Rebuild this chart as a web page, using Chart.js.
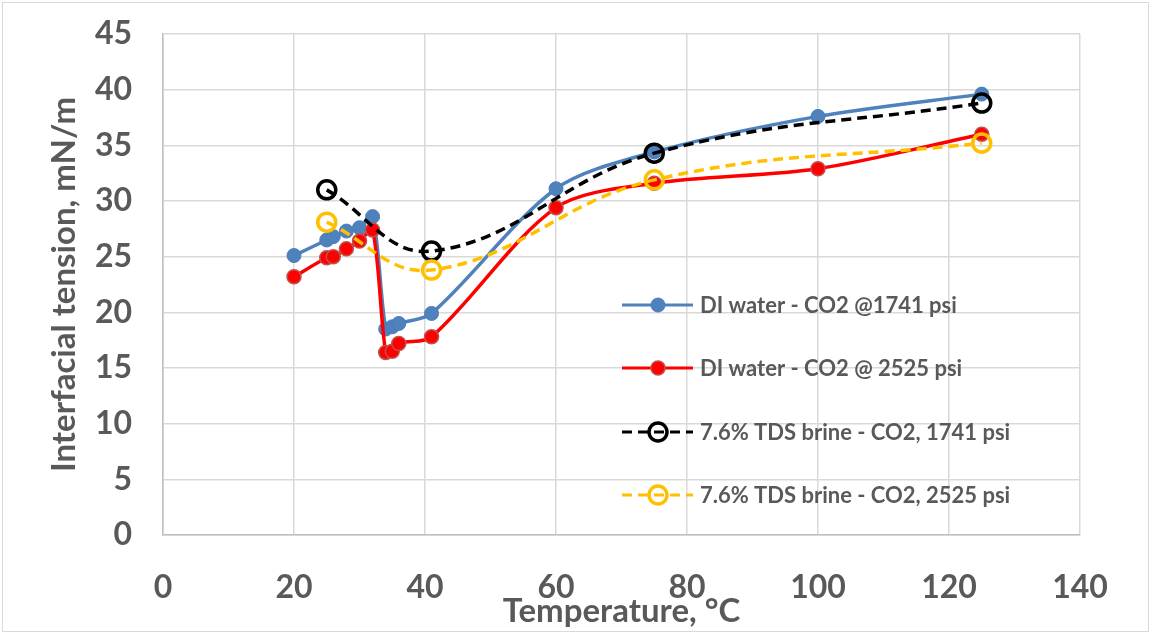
<!DOCTYPE html>
<html>
<head>
<meta charset="utf-8">
<script src="https://cdn.jsdelivr.net/npm/chart.js@4.4.0/dist/chart.umd.min.js"></script>
<style>
  html, body { margin: 0; padding: 0; background: #fff; }
  #wrap { position: absolute; left: 2px; top: 2px; width: 1145px; height: 628px; border: 1px solid #d9d9d9; }
  canvas { display: block; }
</style>
</head>
<body>
<div id="wrap"><canvas id="ift" width="1145" height="628"></canvas></div>
<script>
// temperaturas (°C) e tensões interfaciais (mN/m)
const tempDI = [20, 25, 26, 28, 30, 32, 34, 35, 36, 41, 60, 75, 100, 125];
const iftDI1741 = [25.1, 26.5, 26.8, 27.3, 27.6, 28.6, 18.5, 18.7, 19.0, 19.9, 31.1, 34.4, 37.6, 39.6];
const iftDI2525 = [23.2, 24.9, 25.0, 25.7, 26.4, 27.4, 16.4, 16.5, 17.2, 17.8, 29.4, 31.6, 32.9, 36.0];

const tempBrine = [25, 41, 75, 125];
const iftBrine1741 = [31.0, 25.5, 34.3, 38.8];
const iftBrine2525 = [28.1, 23.8, 31.9, 35.2];

const xTicks = [0, 20, 40, 60, 80, 100, 120, 140];
const yTicks = [0, 5, 10, 15, 20, 25, 30, 35, 40, 45];

const nomes = [
    'DI water - CO2 @1741 psi',
    'DI water - CO2 @ 2525 psi',
    '7.6% TDS brine - CO2, 1741 psi',
    '7.6% TDS brine - CO2, 2525 psi'
];

const FONTE = 'Lato, "Open Sans", sans-serif';
const CINZA = '#595959';

function pares(xs, ys) {
    return xs.map((x, i) => ({ x: x, y: ys[i] }));
}

// legenda desenhada dentro da área do gráfico, como no original
const legendaInterna = {
    id: 'legendaInterna',
    afterDraw(chart) {
        const ctx = chart.ctx;
        const x0 = 619, linhas = [302, 365, 429, 492];
        ctx.save();
        chart.data.datasets.forEach((ds, i) => {
            const y = linhas[i];
            ctx.strokeStyle = ds.borderColor;
            ctx.lineWidth = 3;
            ctx.setLineDash(ds.borderDash || []);
            ctx.beginPath();
            ctx.moveTo(x0, y);
            ctx.lineTo(x0 + 71, y);
            ctx.stroke();
            ctx.setLineDash([]);
            ctx.beginPath();
            ctx.arc(x0 + 36, y, ds.pointRadius, 0, Math.PI * 2);
            ctx.fillStyle = ds.pointBackgroundColor;
            ctx.fill();
            ctx.lineWidth = ds.pointBorderWidth;
            ctx.strokeStyle = ds.pointBorderColor;
            ctx.stroke();
            ctx.fillStyle = CINZA;
            ctx.font = 'bold 22px ' + FONTE;
            ctx.textBaseline = 'middle';
            ctx.fillText(nomes[i], x0 + 78, y + 1);
        });
        ctx.restore();
    }
};

new Chart(document.getElementById('ift'), {
    type: 'line',
    data: {
        datasets: [
            {
                data: pares(tempDI, iftDI1741),
                borderColor: '#4f81bd', borderWidth: 3.5,
                pointRadius: 7, pointBackgroundColor: '#4f81bd', pointBorderColor: '#4a7ebb', pointBorderWidth: 1,
                tension: 0.3, order: 4
            },
            {
                data: pares(tempDI, iftDI2525),
                borderColor: '#ff0000', borderWidth: 3.5,
                pointRadius: 7, pointBackgroundColor: '#ff0000', pointBorderColor: '#c0504d', pointBorderWidth: 1.5,
                tension: 0.3, order: 3
            },
            {
                data: pares(tempBrine, iftBrine1741),
                borderColor: '#000000', borderWidth: 3.5, borderDash: [10, 6],
                pointRadius: 9, pointBackgroundColor: 'rgba(255,255,255,0)', pointBorderColor: '#000000', pointBorderWidth: 3.5,
                tension: 0.4, order: 2
            },
            {
                data: pares(tempBrine, iftBrine2525),
                borderColor: '#ffc000', borderWidth: 3.5, borderDash: [10, 6],
                pointRadius: 9, pointBackgroundColor: 'rgba(255,255,255,0)', pointBorderColor: '#ffc000', pointBorderWidth: 3.5,
                tension: 0.4, order: 1
            }
        ]
    },
    options: {
        responsive: false,
        animation: false,
        layout: { padding: { left: 42, right: 68, top: 31, bottom: 0 } },
        plugins: { legend: { display: false }, tooltip: { enabled: false } },
        scales: {
            x: {
                type: 'linear', min: 0, max: 140,
                afterBuildTicks: axis => { axis.ticks = xTicks.map(v => ({ value: v })); },
                afterFit: axis => { axis.height = 96; axis.paddingLeft = 0; axis.paddingRight = 0; },
                grid: { color: '#d9d9d9', lineWidth: 1.5, drawTicks: false },
                border: { color: '#bfbfbf', width: 1.5 },
                ticks: { color: CINZA, font: { family: FONTE, size: 32, weight: 'bold' }, padding: 33 },
                title: { display: true, text: 'Temperature, °C', color: CINZA, font: { family: FONTE, size: 33, weight: 'bold' }, padding: 0 }
            },
            y: {
                min: 0, max: 45,
                afterBuildTicks: axis => { axis.ticks = yTicks.map(v => ({ value: v })); },
                afterFit: axis => { axis.width = 118; axis.paddingTop = 0; axis.paddingBottom = 0; },
                grid: { color: '#d9d9d9', lineWidth: 1.5, drawTicks: false },
                border: { color: '#bfbfbf', width: 1.5 },
                ticks: { color: CINZA, font: { family: FONTE, size: 32, weight: 'bold' }, padding: 31 },
                title: { display: true, text: 'Interfacial tension, mN/m', color: CINZA, font: { family: FONTE, size: 33, weight: 'bold' }, padding: 0 }
            }
        }
    },
    plugins: [legendaInterna]
});
</script>
</body>
</html>
